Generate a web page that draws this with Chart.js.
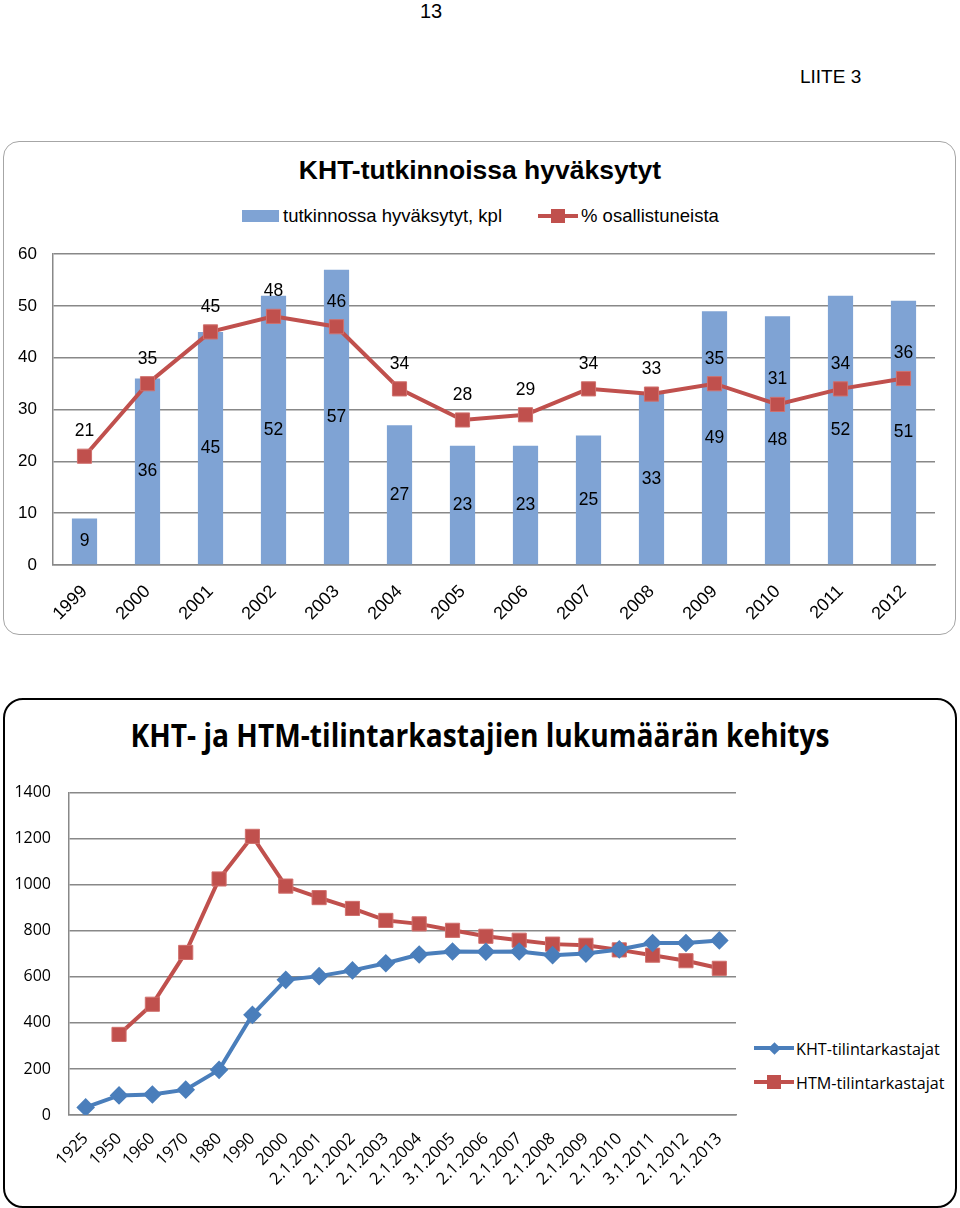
<!DOCTYPE html>
<html>
<head>
<meta charset="utf-8">
<script src="https://cdn.jsdelivr.net/npm/chart.js@4/dist/chart.umd.min.js"></script>
<style>
  body { margin: 0; width: 960px; height: 1208px; background: #fff; position: relative; font-family: Arial, "Liberation Sans", sans-serif; overflow: hidden; }
  .abs { position: absolute; }
  #pageno { left: 0; width: 862px; top: 0; text-align: center; font-size: 20px; }
  #liite { left: 800px; top: 66px; font-size: 19px; }
  #box1 { left: 3px; top: 141px; width: 951px; height: 492px; border: 1.5px solid #a6a6a6; border-radius: 16px; }
  #box2 { left: 3px; top: 698px; width: 950px; height: 506px; border: 2px solid #000; border-radius: 20px; }
  #title1 { left: 0; width: 960px; top: 155px; text-align: center; font-weight: bold; font-size: 26.5px; }
  #title2 { left: 0; width: 960px; top: 713px; text-align: center; font-weight: bold; font-size: 32px; font-family: "Open Sans", sans-serif; transform: scaleX(0.88); transform-origin: 480px 0; }
  .leg { display: flex; align-items: center; white-space: nowrap; }
  .sw { position: relative; display: inline-block; }
  .sw .ln { position: absolute; left: 0; right: 0; top: 50%; }
  .sw .mk { position: absolute; left: 50%; top: 50%; }
  #c1 { left: 0; top: 228px; }
  #c2 { left: 0; top: 765px; }
</style>
</head>
<body>
<div id="pageno" class="abs">13</div>
<div id="liite" class="abs">LIITE 3</div>
<div id="box1" class="abs"></div>
<div id="box2" class="abs"></div>
<div id="title1" class="abs">KHT-tutkinnoissa hyväksytyt</div>
<div id="title2" class="abs">KHT- ja HTM-tilintarkastajien lukumäärän kehitys</div>

<div class="abs leg" style="left:242px; top:205px; font-size:18.5px;">
  <span style="display:inline-block;width:37px;height:12px;background:#7fa3d4;margin-right:4px;"></span>
  <span>tutkinnossa hyväksytyt, kpl</span>
  <span class="sw" style="width:40px;height:16px;margin-left:36px;margin-right:3px;">
    <span class="ln" style="height:4px;margin-top:-2px;background:#c0504d;"></span>
    <span class="mk" style="width:14px;height:14px;margin:-7px 0 0 -7px;background:#c0504d;"></span>
  </span>
  <span>% osallistuneista</span>
</div>

<div class="abs" style="left:754px; top:1036px; font-size:17px; font-family:'Open Sans',sans-serif;">
  <div class="leg" style="height:24px;">
    <span class="sw" style="width:40px;height:16px;margin-right:2px;">
      <span class="ln" style="height:4px;margin-top:-2px;background:#4a7ebb;"></span>
      <span class="mk" style="width:9px;height:9px;margin:-4.5px 0 0 -4.5px;background:#4a7ebb;transform:rotate(45deg);"></span>
    </span>
    <span style="display:inline-block;transform:scaleX(0.95);transform-origin:0 0;">KHT-tilintarkastajat</span>
  </div>
  <div class="leg" style="height:24px;margin-top:10px;">
    <span class="sw" style="width:40px;height:16px;margin-right:2px;">
      <span class="ln" style="height:4px;margin-top:-2px;background:#c0504d;"></span>
      <span class="mk" style="width:14px;height:14px;margin:-7px 0 0 -7px;background:#c0504d;"></span>
    </span>
    <span style="display:inline-block;transform:scaleX(0.95);transform-origin:0 0;">HTM-tilintarkastajat</span>
  </div>
</div>

<canvas id="c1" class="abs" width="960" height="407"></canvas>
<canvas id="c2" class="abs" width="960" height="440"></canvas>

<script>
// top chart data
const years = ["1999", "2000", "2001", "2002", "2003", "2004", "2005", "2006", "2007", "2008", "2009", "2010", "2011", "2012"]
const passedCount = [9, 36, 45, 52, 57, 27, 23, 23, 25, 33, 49, 48, 52, 51]
const passedPercent = [21, 35, 45, 48, 46, 34, 28, 29, 34, 33, 35, 31, 34, 36]
const yTicks1 = [0, 10, 20, 30, 40, 50, 60]

// bottom chart data
const dates = ["1925", "1950", "1960", "1970", "1980", "1990", "2000", "2.1.2001", "2.1.2002", "2.1.2003", "2.1.2004",
  "3.1.2005", "2.1.2006", "2.1.2007", "2.1.2008", "2.1.2009", "2.1.2010", "3.1.2011", "2.1.2012", "2.1.2013"]
const khtCount = [33, 85, 89, 110, 196, 435, 587, 603, 628, 659, 697, 710, 709, 710, 694, 701, 719, 747, 747, 758]
const htmCount = [null, 350, 481, 706, 1025, 1210, 994, 944, 897, 845, 830, 802, 776, 759, 742, 737, 717, 694, 670, 637]
const yTicks2 = [0, 200, 400, 600, 800, 1000, 1200, 1400]

const gridGrey = "#888888"
const arial = "Arial, 'Liberation Sans', sans-serif"
const sans = "'Open Sans', sans-serif"

Chart.defaults.animation = false
Chart.defaults.responsive = false
Chart.defaults.color = "#000"

// value labels for the top chart
const valueLabels = {
  id: "valueLabels",
  afterDatasetsDraw(chart) {
    const ctx = chart.ctx
    ctx.save()
    ctx.font = "17.5px " + arial
    ctx.fillStyle = "#000"
    ctx.textAlign = "center"
    ctx.textBaseline = "middle"
    chart.data.datasets.forEach((ds, i) => {
      const meta = chart.getDatasetMeta(i)
      meta.data.forEach((el, j) => {
        const v = ds.data[j]
        if (ds.type === "bar") {
          ctx.fillText(v, el.x, (el.y + el.base) / 2)
        } else {
          ctx.fillText(v, el.x, el.y - 25)
        }
      })
    })
    ctx.restore()
  },
}

new Chart(document.getElementById("c1"), {
  data: {
    labels: years,
    datasets: [
      {
        type: "line",
        label: "% osallistuneista",
        data: passedPercent,
        borderColor: "#c0504d",
        borderWidth: 4,
        pointStyle: "rect",
        pointRadius: 10,
        pointBackgroundColor: "#c0504d",
        pointBorderColor: "#d0706d",
        pointBorderWidth: 1,
        tension: 0,
        order: 0,
      },
      {
        type: "bar",
        label: "tutkinnossa hyväksytyt, kpl",
        data: passedCount,
        backgroundColor: "#7fa3d4",
        categoryPercentage: 1,
        barPercentage: 0.4,
        order: 1,
      },
    ],
  },
  options: {
    layout: { padding: { top: 13, right: 25, left: 0, bottom: 0 } },
    plugins: { legend: { display: false }, tooltip: { enabled: false } },
    scales: {
      x: {
        grid: { display: false },
        border: { color: gridGrey, width: 1.5 },
        ticks: { font: { size: 18, family: arial }, color: "#000", maxRotation: 45, minRotation: 45, padding: 8 },
        afterFit: (s) => { s.height = 70 },
      },
      y: {
        min: 0,
        max: 60,
        afterBuildTicks: (s) => { s.ticks = yTicks1.map((v) => ({ value: v })) },
        grid: { color: gridGrey, lineWidth: 1.5, drawTicks: false },
        border: { color: gridGrey, width: 1.5 },
        ticks: { font: { size: 17, family: arial }, color: "#000", padding: 16 },
        afterFit: (s) => { s.width = 53 },
      },
    },
  },
  plugins: [valueLabels],
})

new Chart(document.getElementById("c2"), {
  type: "line",
  data: {
    labels: dates,
    datasets: [
      {
        label: "KHT-tilintarkastajat",
        data: khtCount,
        borderColor: "#4a7ebb",
        borderWidth: 4,
        pointStyle: "rectRot",
        pointRadius: 6.5,
        pointBackgroundColor: "#4a7ebb",
        pointBorderColor: "#4a7ebb",
        tension: 0,
      },
      {
        label: "HTM-tilintarkastajat",
        data: htmCount,
        borderColor: "#c0504d",
        borderWidth: 4,
        pointStyle: "rect",
        pointRadius: 10,
        pointBackgroundColor: "#c0504d",
        pointBorderColor: "#d0706d",
        pointBorderWidth: 1,
        tension: 0,
        spanGaps: false,
      },
    ],
  },
  options: {
    layout: { padding: { top: 15, right: 224, left: 0, bottom: 0 } },
    plugins: { legend: { display: false }, tooltip: { enabled: false } },
    scales: {
      x: {
        offset: true,
        grid: { display: false },
        border: { color: gridGrey, width: 1.5 },
        ticks: { font: { size: 16.5, family: sans }, color: "#000", maxRotation: 45, minRotation: 45, autoSkip: false, padding: 6 },
        afterFit: (s) => { s.height = 90 },
      },
      y: {
        min: 0,
        max: 1400,
        afterBuildTicks: (s) => { s.ticks = yTicks2.map((v) => ({ value: v })) },
        grid: { color: gridGrey, lineWidth: 1.5, drawTicks: false },
        border: { color: gridGrey, width: 1.5 },
        ticks: { font: { size: 16, family: sans }, color: "#000", padding: 18, callback: (v) => String(v) },
        afterFit: (s) => { s.width = 69 },
      },
    },
  },
})
</script>
</body>
</html>
